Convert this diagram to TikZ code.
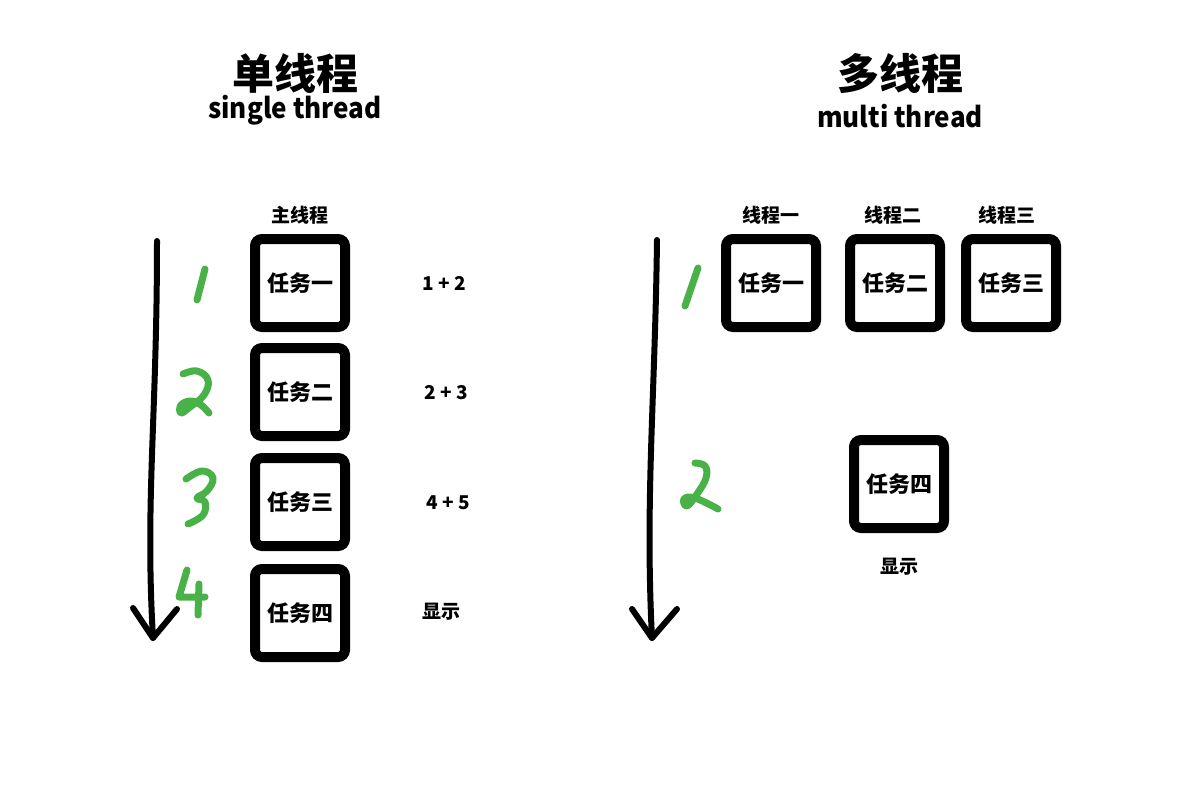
\documentclass[tikz,border=0pt]{standalone}
\usepackage{fontspec}
\newfontfamily\cjk{Noto Sans CJK SC}
\definecolor{hand}{RGB}{72,178,72}
\begin{document}
\begin{tikzpicture}[x=1pt,y=-1pt,
  taskbox/.style={draw=black,line width=10pt,rounded corners=7pt,minimum width=90pt,minimum height=88pt,inner sep=0pt,font=\cjk\bfseries\fontsize{22}{26}\selectfont},
  lbl/.style={inner sep=0pt,font=\cjk\bfseries\fontsize{19}{22}\selectfont},
  title/.style={inner sep=0pt,font=\cjk\bfseries\fontsize{42}{48}\selectfont},
  sub/.style={inner sep=0pt,font=\cjk\bfseries\fontsize{28}{31}\selectfont},
  timeline/.style={line width=6pt,line cap=round,line join=round},
  digit/.style={draw=hand,line width=7pt,line cap=round,line join=round}]
\useasboundingbox (0,0) rectangle (1200,800);
% titles
\node[title] (t1) at (295,73) {单线程};
\node[sub,xscale=0.93] (s1) at (295,110) {single thread};
\node[title] (t2) at (900,73) {多线程};
\node[sub,xscale=0.93] (s2) at (900,116) {multi thread};
% left column
\node[lbl] (main) at (300,215) {主线程};
\node[taskbox] (a1) at (300,283) {任务一};
\node[taskbox] (a2) at (300,392) {任务二};
\node[taskbox] (a3) at (300,502) {任务三};
\node[taskbox] (a4) at (300,613) {任务四};
\node[lbl] (n1) at (444,283) {1 + 2};
\node[lbl] (n2) at (446,393) {2 + 3};
\node[lbl] (n3) at (448,503) {4 + 5};
\node[lbl] (n4) at (441,612) {显示};
% left timeline
\coordinate (Lt) at (157,241);
\coordinate (Lb) at (153,638);
\coordinate (Ll) at (133,608);
\coordinate (Lr) at (177,609);
\draw[timeline] (Lt) .. controls (157,420) and (145,500) .. (Lb);
\draw[timeline] (Ll) -- (Lb) -- (Lr);
% green digits left
\draw[digit] (205,269) -- (197,300);
\draw[digit] plot[smooth,tension=0.7] coordinates {(183,374) (197,371) (208,380) (204,395) (190,407) (181,413) (181,405) (191,401) (201,405) (209,413)};
\draw[digit] plot[smooth,tension=0.7] coordinates {(186,479) (202,471) (213,478) (207,491) (197,498) (205,502) (203,515) (188,524)};
\draw[digit] (187,570) -- (179,597) -- (205,597);
\draw[digit] (199,584) -- (198,615);
% right side
\node[lbl] (h1) at (771,215) {线程一};
\node[lbl] (h2) at (893,215) {线程二};
\node[lbl] (h3) at (1007,215) {线程三};
\node[taskbox] (b1) at (771,283) {任务一};
\node[taskbox] (b2) at (895,283) {任务二};
\node[taskbox] (b3) at (1011,283) {任务三};
\node[taskbox] (b4) at (899,484) {任务四};
\node[lbl] (b4l) at (899,567) {显示};
% right timeline
\coordinate (Rt) at (657,240);
\coordinate (Rb) at (652,638);
\coordinate (Rl) at (632,609);
\coordinate (Rr) at (677,609);
\draw[timeline] (Rt) .. controls (655,400) and (645,500) .. (Rb);
\draw[timeline] (Rl) -- (Rb) -- (Rr);
% green digits right
\draw[digit] (698,268) -- (685,306);
\draw[digit] plot[smooth,tension=0.7] coordinates {(695,463) (705,466) (706,478) (697,494) (687,506) (684,499) (695,498) (718,509)};
\end{tikzpicture}
\end{document}
